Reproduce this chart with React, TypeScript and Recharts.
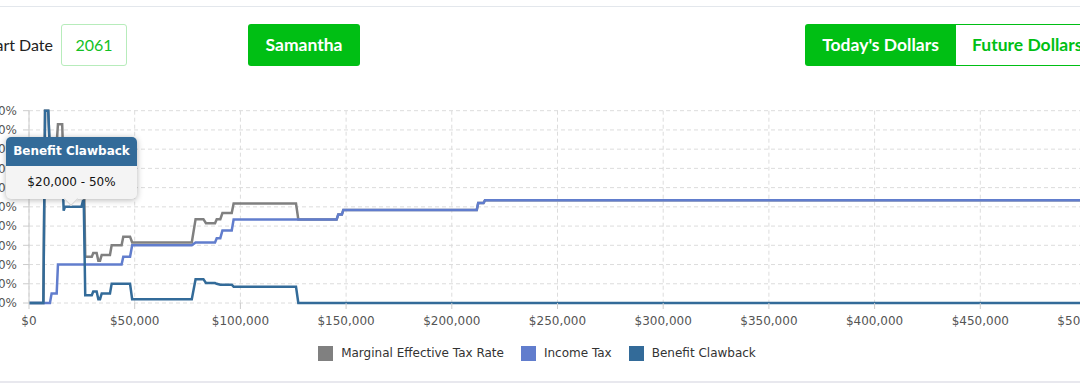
import React from 'react';
import { LineChart, Line, XAxis, YAxis, CartesianGrid, Tooltip, Legend } from 'recharts';

// income points where one of the rates changes
const incomes = [
  0, 6800, 7600, 9100, 9900, 10700, 12300, 13100, 13700, 15700,
  16400, 17000, 20000, 24800, 25500, 25900, 26600, 29700, 30400, 32000,
  32800, 33600, 34400, 38300, 39100, 43800, 44600, 47800, 48800, 77000,
  78800, 82500, 83700, 88000, 88800, 90500, 91500, 95900, 96800, 126300,
  127400, 145500, 146300, 148000, 148700, 211800, 212500, 215000, 215700, 500000,
];

const marginalRate = [
  0, 0, 100, 100, 78, 83, 83, 83, 93, 93,
  68, 70, 70, 70, 73, 73, 24, 24, 26, 26,
  22, 22, 25, 25, 30, 30, 34.5, 34.5, 31.5, 31.5,
  43.6, 43.6, 41.5, 41.5, 43.6, 43.6, 46.8, 46.8, 51.8, 51.8,
  43.4, 43.4, 46, 46, 48.4, 48.4, 52, 52, 53.4, 53.4,
];

const incomeTax = [
  0, 0, 0, 0, 0, 5, 5, 5, 20, 20,
  20, 20, 20, 20, 20, 20, 20, 20, 20, 20,
  20, 20, 20, 20, 20, 20, 24, 24, 30, 30,
  31.5, 31.5, 31.5, 31.5, 33.7, 33.7, 37.7, 37.7, 43.4, 43.4,
  43.4, 43.4, 46, 46, 48.4, 48.4, 52, 52, 53.4, 53.4,
];

const clawback = [
  0, 0, 100, 100, 78, 78, 78, 78, 73, 73,
  48, 50, 50, 50, 53, 53, 4, 4, 6, 6,
  2, 2, 5, 5, 10, 10, 10, 10, 2, 2,
  12.4, 12.4, 10.4, 10.4, 10, 9.5, 9.5, 9.5, 8.5, 8.5,
  0, 0, 0, 0, 0, 0, 0, 0, 0, 0,
];

const xTicks = [0, 50000, 100000, 150000, 200000, 250000, 300000, 350000, 400000, 450000, 500000];
const yTicks = [0, 10, 20, 30, 40, 50, 60, 70, 80, 90, 100];
const legendOrder = ['Marginal Effective Tax Rate', 'Income Tax', 'Benefit Clawback'];

const data = incomes.map((income, i) => ({
  income,
  met: marginalRate[i],
  tax: incomeTax[i],
  clawback: clawback[i],
}));

const tipIndex = incomes.indexOf(20000);

const FONT = '"DejaVu Sans", Verdana, sans-serif';
const HEAD = 'Lato, "Open Sans", sans-serif';
const GREEN = '#00bf14';
const CLAW = '#336b99';

const CHART_W = 1127;

const ClawbackTip = ({ active, payload }: any) => {
  if (!active || !payload || !payload.length) return null;
  const cb = payload.find((p: any) => p.dataKey === 'clawback');
  if (!cb) return null;
  const inc = cb.payload.income;
  return (
    <div style={{ position: 'relative', width: 131, fontFamily: FONT, fontSize: 12, borderRadius: 5, background: '#f4f4f4', boxShadow: '0 1px 6px rgba(0,0,0,0.3)' }}>
      <div style={{ background: CLAW, color: '#fff', fontWeight: 'bold', height: 29, lineHeight: '29px', textAlign: 'center', borderRadius: '5px 5px 0 0' }}>
        {cb.name}
      </div>
      <div style={{ height: 33, lineHeight: '33px', textAlign: 'center', color: '#111' }}>
        {`$${inc.toLocaleString('en-US')} - ${cb.value}%`}
      </div>
      <div style={{ position: 'absolute', left: 60, bottom: -5, width: 9, height: 9, background: '#f4f4f4', transform: 'rotate(45deg)', borderRight: '1px solid #d6d6d6', borderBottom: '1px solid #d6d6d6' }} />
    </div>
  );
};

const LegendBox = ({ payload }: any) => {
  const items = [...(payload || [])].sort((a: any, b: any) => legendOrder.indexOf(a.value) - legendOrder.indexOf(b.value));
  return (
    <div style={{ display: 'flex', justifyContent: 'center', alignItems: 'center', height: 40, paddingLeft: 26, fontFamily: FONT, fontSize: 12, color: '#333' }}>
      {items.map((p: any) => (
        <div key={p.value} style={{ display: 'flex', alignItems: 'center', marginRight: 17 }}>
          <span style={{ display: 'inline-block', width: 15, height: 15, background: p.color, marginRight: 8 }} />
          <span>{p.value}</span>
        </div>
      ))}
    </div>
  );
};

export default function App() {
  return (
    <div style={{ position: 'absolute', left: 0, top: 0, width: 1080, height: 389, overflow: 'hidden', background: '#fff' }}>
      <div style={{ position: 'absolute', left: 0, top: 6, width: 1080, height: 1, background: '#e3e7ec' }} />

      {/* header controls */}
      <div style={{ position: 'absolute', right: 1080 - 53, top: 24, height: 42, lineHeight: '42px', fontFamily: HEAD, fontSize: 16, color: '#222', whiteSpace: 'nowrap' }}>
        Start Date
      </div>
      <div style={{ position: 'absolute', left: 61, top: 24, width: 66, height: 42, boxSizing: 'border-box', border: '1px solid #b7ecbb', borderRadius: 3, lineHeight: '40px', textAlign: 'center', fontFamily: HEAD, fontSize: 16, color: '#13c125' }}>
        2061
      </div>
      <div style={{ position: 'absolute', left: 248, top: 24, width: 112, height: 42, background: GREEN, borderRadius: 3, lineHeight: '42px', textAlign: 'center', fontFamily: HEAD, fontWeight: 'bold', fontSize: 17.5, color: '#fff' }}>
        Samantha
      </div>
      <div style={{ position: 'absolute', left: 805, top: 24, width: 151, height: 42, background: GREEN, borderRadius: '3px 0 0 3px', lineHeight: '42px', textAlign: 'center', fontFamily: HEAD, fontWeight: 'bold', fontSize: 17.5, color: '#fff' }}>
        Today's Dollars
      </div>
      <div style={{ position: 'absolute', left: 956, top: 24, width: 150, height: 42, boxSizing: 'border-box', border: `1px solid ${GREEN}`, borderLeft: 'none', lineHeight: '40px', paddingLeft: 16, fontFamily: HEAD, fontWeight: 'bold', fontSize: 17.5, color: GREEN, whiteSpace: 'nowrap' }}>
        Future Dollars
      </div>

      <div style={{ position: 'absolute', left: -31, top: 100 }}>
        <LineChart width={CHART_W} height={278} data={data} margin={{ top: 10.7, right: 10, bottom: 5, left: 0 }}>
          <CartesianGrid strokeDasharray="4 3" stroke="#dcdcdc" />
          <XAxis
            dataKey="income"
            type="number"
            domain={[0, 500000]}
            ticks={xTicks}
            interval={0}
            height={30}
            tickFormatter={(v: number) => `$${v.toLocaleString('en-US')}`}
            tick={{ fill: '#555', fontSize: 12, fontFamily: FONT }}
            axisLine={false}
            tickLine={{ stroke: '#ccc' }}
            tickSize={6}
            tickMargin={7}
          />
          <YAxis
            domain={[0, 100]}
            ticks={yTicks}
            interval={0}
            width={60}
            tickFormatter={(v: number) => `${v}%`}
            tick={{ fill: '#555', fontSize: 12, fontFamily: FONT }}
            stroke="#ccc"
            tickSize={6}
            tickMargin={6}
          />
          <Tooltip
            content={<ClawbackTip />}
            defaultIndex={tipIndex}
            active
            cursor={false}
            position={{ x: 37, y: 37 }}
            wrapperStyle={{ outline: 'none', zIndex: 5 }}
          />
          <Legend verticalAlign="bottom" content={<LegendBox />} wrapperStyle={{ left: 0, width: CHART_W }} />
          <Line type="linear" dataKey="met" name="Marginal Effective Tax Rate" stroke="#808080" strokeWidth={2.5} dot={false} activeDot={false} isAnimationActive={false} />
          <Line type="linear" dataKey="tax" name="Income Tax" stroke="#617dcd" strokeWidth={2.5} dot={false} activeDot={false} isAnimationActive={false} />
          <Line type="linear" dataKey="clawback" name="Benefit Clawback" stroke={CLAW} strokeWidth={2.5} dot={false} activeDot={false} isAnimationActive={false} />
        </LineChart>
      </div>

      <div style={{ position: 'absolute', left: 0, top: 381, width: 1080, height: 2, background: '#e8e8ee' }} />
    </div>
  );
}
